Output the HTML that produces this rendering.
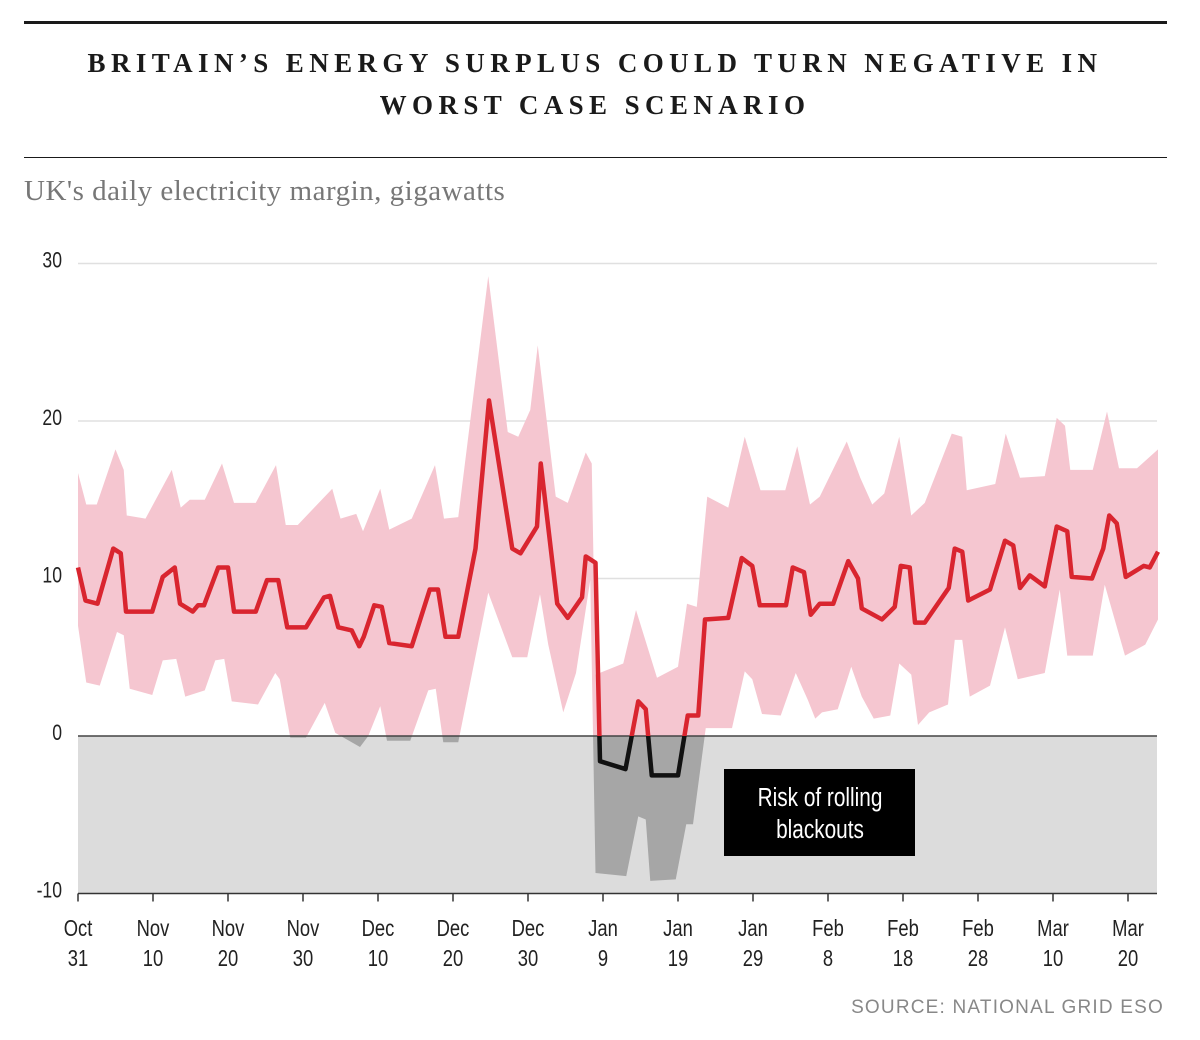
<!DOCTYPE html>
<html><head><meta charset="utf-8">
<style>
html,body{margin:0;padding:0;background:#fff;}
body{width:1200px;height:1040px;position:relative;overflow:hidden;}
.rule{position:absolute;left:24px;width:1143px;background:#1a1a1a;}
#title{position:absolute;left:0;width:1190px;top:42px;text-align:center;font-family:"Liberation Serif",serif;font-weight:bold;font-size:27px;letter-spacing:5.4px;line-height:42px;color:#1a1a1a;}
#sub{position:absolute;left:24px;top:175px;font-family:"Liberation Serif",serif;font-size:29px;letter-spacing:0.5px;color:#777;}
svg{position:absolute;left:0;top:0;}
.cond{font-family:"Liberation Sans",sans-serif;}
</style></head><body>
<div class="rule" style="top:21px;height:3px"></div>
<div id="title">BRITAIN’S ENERGY SURPLUS COULD TURN NEGATIVE IN<br>WORST CASE SCENARIO</div>
<div class="rule" style="top:157px;height:1px"></div>
<div id="sub">UK's daily electricity margin, gigawatts</div>
<svg id="chart" width="1200" height="1040"></svg>
<script>
const midDays=[0,1,2.6,4.7,5.7,6.4,9.9,11.3,12.9,13.6,15.3,16,16.8,18.7,20,20.8,23.7,25.2,26.7,27.9,30.4,32.8,33.6,34.7,36.5,37.5,38.1,39.5,40.5,41.5,44.5,46.9,48,49,50.7,53,54.8,57.9,59,61.2,61.7,63.9,65.3,67.2,67.7,69,69.6,73,74.7,75.7,76.5,80,81.3,82.7,83.6,86.7,88.5,89.9,90.9,94.4,95.3,96.8,97.7,98.9,100.7,102.7,104,104.5,107.2,108.9,109.7,110.9,111.6,112.9,116.1,116.9,117.9,118.7,121.6,123.6,124.7,125.6,126.9,128.9,130.5,131.9,132.5,135.2,136.7,137.5,138.5,139.7,142.1,142.9,144];
const midVals=[10.7,8.6,8.4,11.9,11.6,7.9,7.9,10.1,10.7,8.4,7.9,8.3,8.3,10.7,10.7,7.9,7.9,9.9,9.9,6.9,6.9,8.8,8.9,6.9,6.7,5.7,6.3,8.3,8.2,5.9,5.7,9.3,9.3,6.3,6.3,11.9,21.3,11.9,11.6,13.3,17.3,8.4,7.5,8.8,11.4,11,-1.6,-2.1,2.2,1.7,-2.5,-2.5,1.3,1.3,7.4,7.5,11.3,10.8,8.3,8.3,10.7,10.4,7.7,8.4,8.4,11.1,10,8.1,7.4,8.2,10.8,10.7,7.2,7.2,9.4,11.9,11.7,8.6,9.3,12.4,12.1,9.4,10.2,9.5,13.3,13,10.1,10,11.9,14,13.5,10.1,10.8,10.7,11.7];
const upDays=[0,1.1,2.5,5,6.1,6.5,9,12.5,13.7,14.9,16.9,19.2,20.8,23.7,26.4,27.7,29.3,33.9,35,37.1,38,40.3,41.5,44.5,47.6,48.8,50.7,54.7,57.3,58.7,60.3,61.3,63.7,65.3,67.7,68.5,69,72.7,74.4,77.2,80,81.2,82.5,83.9,86.7,88.9,91,94.3,95.9,97.6,98.9,102.5,104.3,105.9,107.5,109.5,111.1,112.9,116.5,117.9,118.5,122.3,123.7,125.6,128.9,130.5,131.6,132.3,135.3,137.2,138.8,141.2,144];
const upVals=[16.7,14.7,14.7,18.2,16.9,14,13.8,16.9,14.5,15,15,17.3,14.8,14.8,17.2,13.4,13.4,15.7,13.8,14.1,13,15.7,13.1,13.8,17.2,13.8,13.9,29.2,19.3,19,20.7,24.8,15.2,14.8,18,17.3,3.9,4.6,8,3.7,4.4,8.4,8.2,15.2,14.5,19,15.6,15.6,18.4,14.7,15.2,18.7,16.4,14.7,15.4,19,14,14.8,19.2,19,15.6,16,19.2,16.4,16.5,20.2,19.7,16.9,16.9,20.6,17,17,18.2];
const loDays=[0,1.1,2.9,5.2,6.1,6.9,9.9,11.3,13.1,14.3,16.9,18.3,19.5,20.5,24,26.3,26.9,28.3,30.4,32.9,34.3,37.6,38.7,40.3,41.2,44.3,46.7,47.7,48.7,50.7,54.7,57.9,59.9,61.6,62.7,64.7,66.4,68.3,69,73.1,74.7,75.7,76.3,79.7,81.1,82,83.7,87.2,88.9,89.9,91.2,93.7,95.7,97.3,98.3,99.2,101.3,103.1,104.5,106.1,108.3,109.5,111.1,112,113.5,116,116.9,117.9,118.9,121.6,123.6,125.3,128.9,130.9,131.9,135.3,136.9,139.6,142.3,144];
const loVals=[7,3.4,3.2,6.6,6.4,3,2.6,4.8,4.9,2.5,2.9,4.8,4.9,2.2,2,4,3.6,-0.1,-0.1,2.1,0.2,-0.7,0,1.9,-0.3,-0.3,2.9,3,-0.4,-0.4,9.1,5,5,9,5.8,1.5,4,9.9,-8.7,-8.9,-5.1,-5.3,-9.2,-9.1,-5.6,-5.6,0.5,0.5,4.1,3.6,1.4,1.3,4,2.3,1.1,1.5,1.7,4.4,2.5,1.1,1.3,4.6,3.9,0.7,1.5,2,6.1,6.1,2.5,3.2,6.9,3.6,4,9.3,5.1,5.1,9.6,5.1,5.8,7.4];
const yTicks=[30,20,10,0,-10];
const xMonths=["Oct","Nov","Nov","Nov","Dec","Dec","Dec","Jan","Jan","Jan","Feb","Feb","Feb","Mar","Mar"];
const xDates=["31","10","20","30","10","20","30","9","19","29","8","18","28","10","20"];

const NS="http://www.w3.org/2000/svg";
const svg=document.getElementById('chart');
const X0=78,PXD=7.5,XEND=1157,SQ=0.8;
const xs=d=>X0+d*PXD;
const ys=v=>736-v*15.75;
function mk(t,a,p){const e=document.createElementNS(NS,t);for(const k in a)e.setAttribute(k,a[k]);(p||svg).appendChild(e);return e;}
function ntext(x,y,anchor,size,fill,p){return mk('text',{x:0,y:0,'text-anchor':anchor,'font-size':size,fill:fill,class:'cond',transform:'translate('+x+','+y+') scale('+SQ+',1)'},p);}

const defs=mk('defs',{});
const cpA=mk('clipPath',{id:'above'},defs);mk('rect',{x:0,y:0,width:1200,height:ys(0)},cpA);
const cpB=mk('clipPath',{id:'below'},defs);mk('rect',{x:0,y:ys(0),width:1200,height:400},cpB);

const neg=mk('rect',{x:X0,y:ys(0),width:XEND-X0,height:ys(-10)-ys(0),fill:'#dcdcdc'});



yTicks.forEach(v=>{
  if(v>0){const g=mk('line',{x1:X0,x2:XEND,y1:ys(v),y2:ys(v),stroke:'#e0e0e0','stroke-width':1.5});
  
  }
  const t=ntext(62,ys(v)+4,'end',22,'#222');
  t.textContent=v;
  
  
});

let bd='M'+upDays.map((d,i)=>xs(d)+','+ys(upVals[i])).join('L');
for(let i=loDays.length-1;i>=0;i--)bd+='L'+xs(loDays[i])+','+ys(loVals[i]);
bd+='Z';
const b1=mk('path',{d:bd,fill:'#f5c6d0','clip-path':'url(#above)'});


const b2=mk('path',{d:bd,fill:'#a6a6a6','clip-path':'url(#below)'});



const z=mk('line',{x1:X0,x2:XEND,y1:ys(0),y2:ys(0),stroke:'#444','stroke-width':1.5});



const ld='M'+midDays.map((d,i)=>xs(d)+','+ys(midVals[i])).join('L');
const l1=mk('path',{d:ld,fill:'none',stroke:'#d9252f','stroke-width':4.5,'stroke-linejoin':'round','clip-path':'url(#above)'});


const l2=mk('path',{d:ld,fill:'none',stroke:'#111','stroke-width':4.5,'stroke-linejoin':'round','clip-path':'url(#below)'});



const ax=mk('line',{x1:X0,x2:XEND,y1:ys(-10),y2:ys(-10),stroke:'#333','stroke-width':1.5});


xMonths.forEach((m,i)=>{
  const x=xs(i*10);
  const tk=mk('line',{x1:x,x2:x,y1:ys(-10),y2:ys(-10)+8,stroke:'#333','stroke-width':1.5});
  
  
  const t=ntext(x,936,'middle',23,'#222');
  t.textContent=m;
  
  
  const t2=ntext(x,966,'middle',23,'#222');
  t2.textContent=xDates[i];
  
  
});

const g=mk('g',{});


mk('rect',{x:724,y:769,width:191,height:87,fill:'#000'},g);
const a1=ntext(820,806,'middle',26,'#fff',g);a1.textContent='Risk of rolling';
const a2=ntext(820,838,'middle',26,'#fff',g);a2.textContent='blackouts';

const s=mk('text',{x:1164,y:1013,'text-anchor':'end','font-size':19,fill:'#888','letter-spacing':1.2,class:'cond'});
s.textContent='SOURCE: NATIONAL GRID ESO';


</script>
</body></html>
